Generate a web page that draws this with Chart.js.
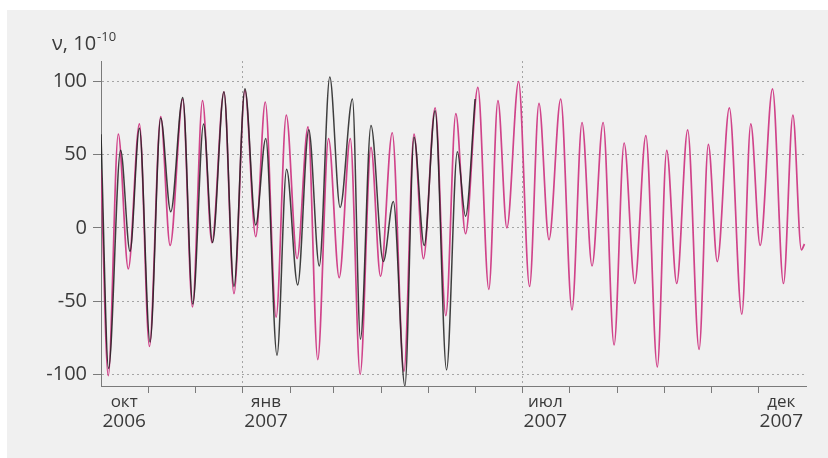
<!DOCTYPE html>
<html><head><meta charset="utf-8">
<script src="https://cdn.jsdelivr.net/npm/chart.js@4.4.1/dist/chart.umd.min.js"></script>
<style>html,body{margin:0;padding:0;background:#fff;}canvas{display:block;}</style>
</head><body>
<canvas id="c" width="828" height="458"></canvas>
<script>
// days since 1 Oct 2006
const predDays = [0,4.7,11.2,17.7,24.9,31.4,38.7,44.8,53,59.3,65.8,71.9,79.7,86.2,93.3,100.3,106.5,113.5,120.1,127.1,134.2,140.5,147.5,154.4,161.6,168,175,181.2,188.8,196.4,202.9,209,216.6,223.5,230,236.3,244.3,251.4,257.3,263.1,270.7,277.8,283.9,290.4,298,305.3,311.8,318.3,325.5,332.6,339.1,346,353.2,360.6,366.7,373.2,380.3,387.7,393.7,399.5,407.3,415.4,421.2,427.3,435.3,442.4,448.5,454,456];
const predNu = [40,-101,64,-28,71,-81,76,-12,88,-54,87,-10,93,-45,94,-6,86,-61,77,-21,69,-90,61,-34,61,-100,55,-33,65,-98,64,-21,82,-60,78,-4,96,-42,87,0,100,-40,85,-8,88,-56,72,-26,72,-80,58,-38,63,-95,53,-38,67,-83,57,-23,82,-59,71,-12,95,-38,77,-15,-11];
const measDays = [0,4.9,12.7,18.8,24.9,31.8,38.7,45.2,53,59.5,66.5,72.3,79.7,86.2,93.3,100.3,106.8,114.1,120.3,127.5,134.7,141.5,148.3,155,163,168.2,175,183,189.5,197,202.9,209.5,216.6,224,231,236.3,242.5];
const measNu = [64,-96,53,-16,68,-78,75,11,89,-52,71,-10,93,-40,95,2,61,-87,40,-39,67,-26,103,14,88,-76,70,-23,18,-108,62,-12,80,-97,52,8,88];
const yTicks = [-100,-50,0,50,100];
const monthStartDays = [31,61,92,123,151,182,212,243,273,304,335,365,396,426];
const gridDays = [92,273];
const labelDays = [15,107,288,441];
const monthLabels = ['окт','янв','июл','дек'];
const yearLabels = ['2006','2007','2007','2007'];
const axisTitle = 'ν, 10';
const axisTitleExp = '-10';

const FONT = '"Open Sans", "Noto Sans", sans-serif';
const TEXT = '#3a3a3a';
const AXIS = '#7a7a7a';
const GRID = '#a5a5a5';

const bgPlugin = {
  id: 'bg',
  beforeDraw(chart) {
    const ctx = chart.ctx;
    ctx.save();
    ctx.fillStyle = '#ffffff';
    ctx.fillRect(0, 0, chart.width, chart.height);
    ctx.fillStyle = '#f0f0f0';
    ctx.fillRect(7, 10, chart.width - 7, chart.height - 10);
    ctx.restore();
  },
  afterDraw(chart) {
    const ctx = chart.ctx;
    ctx.save();
    ctx.fillStyle = TEXT;
    ctx.textBaseline = 'alphabetic';
    ctx.font = '20px ' + FONT;
    ctx.fillText(axisTitle, 52, 50);
    const w = ctx.measureText(axisTitle).width;
    ctx.font = '13px ' + FONT;
    ctx.fillText(axisTitleExp, 52 + w + 1, 41);
    ctx.restore();
  }
};

const pts = (xs, ys) => xs.map((x, i) => ({x: x, y: ys[i]}));

new Chart(document.getElementById('c'), {
  type: 'line',
  data: {
    datasets: [
      {label: 'meas', data: pts(measDays, measNu), borderColor: 'rgba(30,30,30,0.85)', borderWidth: 1.5,
       pointRadius: 0, cubicInterpolationMode: 'monotone', order: 0},
      {label: 'pred', data: pts(predDays, predNu), borderColor: '#d0438a', borderWidth: 1.7,
       pointRadius: 0, cubicInterpolationMode: 'monotone', order: 1}
    ]
  },
  options: {
    responsive: false,
    animation: false,
    devicePixelRatio: 1,
    layout: {padding: {left: 0, top: 61, right: 22, bottom: 27}},
    plugins: {legend: {display: false}, tooltip: {enabled: false}, title: {display: false}},
    scales: {
      x: {
        type: 'linear', min: 0, max: 457, position: 'bottom', weight: 0,
        afterBuildTicks: s => { s.ticks = monthStartDays.concat(labelDays).sort((a, b) => a - b).map(v => ({value: v})); },
        ticks: {
          autoSkip: false, maxRotation: 0, minRotation: 0, padding: 1, color: TEXT,
          font: {family: FONT, size: 17, lineHeight: 1.0},
          callback: v => { const i = labelDays.indexOf(v); return i >= 0 ? monthLabels[i] : ''; }
        },
        grid: {
          color: c => (c.tick && gridDays.includes(c.tick.value)) ? GRID : 'rgba(0,0,0,0)',
          tickColor: c => (c.tick && labelDays.includes(c.tick.value)) ? 'rgba(0,0,0,0)' : AXIS,
          tickLength: 7, lineWidth: 1
        },
        border: {color: AXIS, width: 1, dash: [2, 3]}
      },
      x2: {
        type: 'linear', min: 0, max: 457, position: 'bottom', weight: 1,
        afterBuildTicks: s => { s.ticks = labelDays.map(v => ({value: v})); },
        ticks: {
          autoSkip: false, maxRotation: 0, minRotation: 0, padding: 0, color: TEXT,
          font: {family: FONT, size: 19, lineHeight: 1.0},
          callback: v => { const i = labelDays.indexOf(v); return i >= 0 ? yearLabels[i] : ''; }
        },
        grid: {display: false, drawTicks: false},
        border: {display: false}
      },
      y: {
        type: 'linear', min: -108, max: 114,
        afterBuildTicks: s => { s.ticks = yTicks.map(v => ({value: v})); },
        afterFit: s => { s.width = 101; },
        ticks: {padding: 6, color: TEXT, font: {family: FONT, size: 20}, callback: v => String(v)},
        grid: {color: GRID, tickColor: AXIS, tickLength: 8, lineWidth: 1},
        border: {color: AXIS, width: 1, dash: [2, 3]}
      }
    }
  },
  plugins: [bgPlugin]
});
</script>
</body></html>
